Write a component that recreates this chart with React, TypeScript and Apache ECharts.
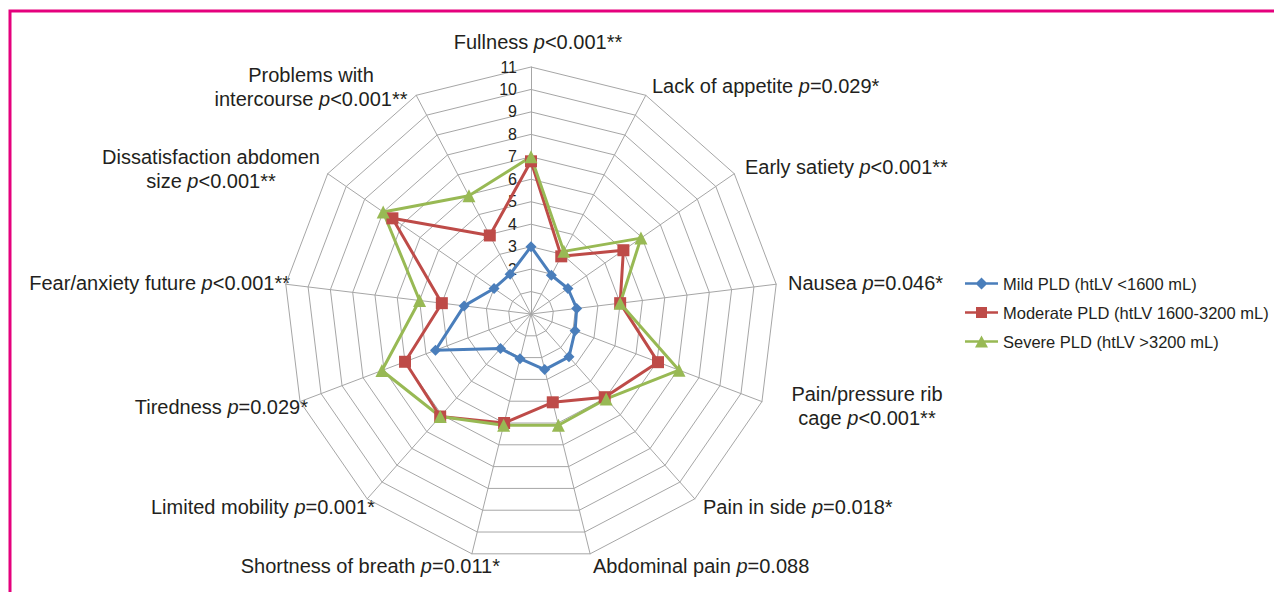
import React, { useEffect, useRef } from 'react';
import * as echarts from 'echarts';

// Categories in clockwise order starting from the top
const categories = [
  'Fullness',
  'Lack of appetite',
  'Early satiety',
  'Nausea',
  'Pain/pressure rib\ncage',
  'Pain in side',
  'Abdominal pain',
  'Shortness of breath',
  'Limited mobility',
  'Tiredness',
  'Fear/anxiety future',
  'Dissatisfaction abdomen\nsize',
  'Problems with\nintercourse',
];
const pValues = [
  '<0.001**', '=0.029*', '<0.001**', '=0.046*', '<0.001**', '=0.018*', '=0.088',
  '=0.011*', '=0.001*', '=0.029*', '<0.001**', '<0.001**', '<0.001**',
];
const seriesNames = [
  'Mild PLD (htLV <1600 mL)',
  'Moderate PLD (htLV 1600-3200 mL)',
  'Severe PLD (htLV >3200 mL)',
];
const mild = [3.0, 1.95, 2.0, 2.05, 2.1, 2.55, 2.55, 2.05, 2.05, 4.55, 3.0, 2.0, 2.0];
const moderate = [6.8, 2.9, 5.0, 4.0, 6.05, 4.95, 4.05, 5.0, 6.1, 6.0, 4.0, 7.5, 3.95];
const severe = [7.0, 3.15, 5.95, 4.0, 7.05, 5.05, 5.1, 5.1, 6.1, 7.1, 5.0, 8.0, 5.95];
const axisMin = 0;
const axisMax = 11;

// Layout (not data): anchor of each category label
const labelLayout: [number, number, string][] = [
  [538, 42, 'center'],
  [652, 86, 'left'],
  [745, 167, 'left'],
  [788, 283, 'left'],
  [867, 406, 'center'],
  [703, 507, 'left'],
  [593, 566, 'left'],
  [500, 566, 'right'],
  [375, 507, 'right'],
  [308, 407, 'right'],
  [290, 283, 'right'],
  [211, 169, 'center'],
  [311, 87, 'center'],
];

const COLORS = ['#4A7EBB', '#BE4B48', '#98B954'];
const FONT = '"Liberation Sans", Arial, Helvetica, sans-serif';
const TEXT = '#231F20';

const legendIcons = [
  'path://M0,4.75H33V7.25H0Z M16.5,0L22.5,6L16.5,12L10.5,6Z',
  'path://M0,4.75H33V7.25H0Z M11,0.5H22V11.5H11Z',
  'path://M0,4.75H33V7.25H0Z M16.5,0L23,12H10Z',
];
const symbols = ['diamond', 'rect', 'triangle'];
const symbolSizes = [11, 12, 13];

export default function App() {
  const ref = useRef<HTMLDivElement>(null);
  useEffect(() => {
    if (!ref.current) return;
    const chart = echarts.init(ref.current, null, { renderer: 'svg' });
    // ECharts radar runs counter-clockwise; reorder so categories run clockwise
    const order = [0, ...Array.from({ length: categories.length - 1 }, (_, i) => categories.length - 1 - i)];
    const reorder = (arr: number[]) => order.map((k) => arr[k]);
    const seriesValues = [mild, moderate, severe];

    const indicator = order.map((k, idx) => {
      const ind: any = { name: categories[k].replace('\n', ' '), min: axisMin, max: axisMax };
      if (idx === 0) {
        ind.axisLabel = {
          show: true,
          fontSize: 16,
          fontFamily: FONT,
          color: TEXT,
          margin: 14,
          formatter: (v: number) => (v < 2 ? '' : String(v)),
        };
      }
      return ind;
    });

    const labelGraphics = categories.map((c, k) => {
      const [x, y, align] = labelLayout[k];
      return {
        type: 'text',
        x,
        y,
        silent: true,
        style: {
          text: c + ' {i|p}' + pValues[k],
          fill: TEXT,
          fontSize: 20,
          fontFamily: FONT,
          align,
          verticalAlign: 'middle',
          lineHeight: 24,
          rich: {
            i: { fontStyle: 'italic', fontSize: 20, fontFamily: FONT, fill: TEXT, color: TEXT, lineHeight: 24 },
          },
        },
      };
    });

    chart.setOption({
      animation: false,
      backgroundColor: '#ffffff',
      legend: {
        orient: 'vertical',
        left: 960,
        top: 270,
        itemWidth: 33,
        itemHeight: 12,
        itemGap: 12,
        textStyle: { fontSize: 16.5, fontFamily: FONT, color: TEXT },
        data: seriesNames.map((n, i) => ({ name: n, icon: legendIcons[i] })),
      },
      radar: {
        center: [531, 314],
        radius: 247,
        startAngle: 90,
        shape: 'polygon',
        splitNumber: 11,
        indicator,
        axisName: { show: false },
        axisLine: { lineStyle: { color: '#A6A6A6', width: 1 } },
        splitLine: { lineStyle: { color: '#A6A6A6', width: 1 } },
        splitArea: { show: false },
        axisTick: { show: false },
        axisLabel: { show: false },
      },
      series: [
        {
          type: 'radar',
          data: seriesValues.map((vals, i) => ({
            name: seriesNames[i],
            value: reorder(vals),
            symbol: symbols[i],
            symbolSize: symbolSizes[i],
            lineStyle: { color: COLORS[i], width: 3 },
            itemStyle: { color: COLORS[i] },
          })),
        },
      ],
      graphic: [
        {
          type: 'rect',
          silent: true,
          shape: { x: 10, y: 11, width: 1400, height: 800 },
          style: { fill: 'none', stroke: '#E5007D', lineWidth: 3 },
        },
        ...labelGraphics,
      ],
    });
    return () => chart.dispose();
  }, []);
  return (
    <div
      ref={ref}
      style={{ position: 'absolute', left: 0, top: 0, width: 1274, height: 592 }}
    />
  );
}
